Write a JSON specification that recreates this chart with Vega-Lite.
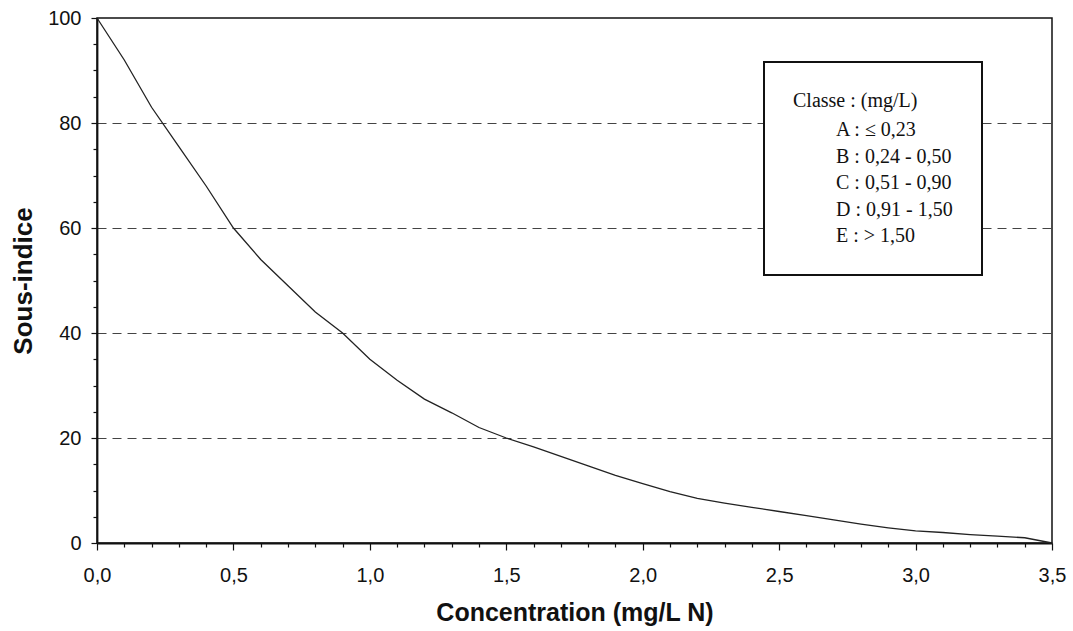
{
  "$schema": "https://vega.github.io/schema/vega-lite/v6.json",
  "autosize": {"type": "none"},
  "padding": {"left": 97, "top": 18, "right": 21, "bottom": 88},
  "width": 955,
  "height": 525,
  "background": "white",
  "config": {
    "view": {"stroke": "#111111", "strokeWidth": 1.5},
    "font": "Liberation Sans",
    "legend": {"strokeWidth": 2}
  },
  "datasets": {
    "curve": [
      {"c": 0.0, "s": 100}, {"c": 0.1, "s": 92}, {"c": 0.2, "s": 83}, {"c": 0.3, "s": 75.5},
      {"c": 0.4, "s": 68}, {"c": 0.5, "s": 60}, {"c": 0.6, "s": 54}, {"c": 0.7, "s": 49},
      {"c": 0.8, "s": 44}, {"c": 0.9, "s": 40}, {"c": 1.0, "s": 35}, {"c": 1.1, "s": 31},
      {"c": 1.2, "s": 27.4}, {"c": 1.3, "s": 24.8}, {"c": 1.4, "s": 22}, {"c": 1.5, "s": 20},
      {"c": 1.6, "s": 18.3}, {"c": 1.7, "s": 16.5}, {"c": 1.8, "s": 14.7}, {"c": 1.9, "s": 12.9},
      {"c": 2.0, "s": 11.3}, {"c": 2.1, "s": 9.8}, {"c": 2.2, "s": 8.5}, {"c": 2.3, "s": 7.6},
      {"c": 2.4, "s": 6.8}, {"c": 2.5, "s": 6.0}, {"c": 2.6, "s": 5.2}, {"c": 2.7, "s": 4.4},
      {"c": 2.8, "s": 3.6}, {"c": 2.9, "s": 2.9}, {"c": 3.0, "s": 2.3}, {"c": 3.1, "s": 2.0},
      {"c": 3.2, "s": 1.6}, {"c": 3.3, "s": 1.3}, {"c": 3.4, "s": 1.0}, {"c": 3.5, "s": 0}
    ],
    "classes": [
      {"classe": "A : ≤ 0,23"},
      {"classe": "B : 0,24 - 0,50"},
      {"classe": "C : 0,51 - 0,90"},
      {"classe": "D : 0,91 - 1,50"},
      {"classe": "E : > 1,50"}
    ]
  },
  "layer": [
    {
      "data": {"name": "curve"},
      "mark": {"type": "line", "color": "#222222", "strokeWidth": 1.3},
      "encoding": {
        "x": {
          "field": "c", "type": "quantitative",
          "title": "Concentration (mg/L N)",
          "scale": {"domain": [0, 3.5], "nice": false, "zero": false},
          "axis": {
            "values": [0,0.1,0.2,0.3,0.4,0.5,0.6,0.7,0.8,0.9,1,1.1,1.2,1.3,1.4,1.5,1.6,1.7,1.8,1.9,2,2.1,2.2,2.3,2.4,2.5,2.6,2.7,2.8,2.9,3,3.1,3.2,3.3,3.4,3.5],
            "labelExpr": "abs(datum.value*2 - round(datum.value*2)) < 0.001 ? replace(format(datum.value, '.1f'), '.', ',') : ''",
            "labelOverlap": false,
            "labelFont": "Liberation Sans",
            "labelFontSize": 20,
            "labelColor": "#111111",
            "labelPadding": 15,
            "labelFlush": false,
            "tickSize": {"condition": {"test": "abs(datum.value*2 - round(datum.value*2)) < 0.001", "value": 7}, "value": 4},
            "tickColor": "#111111",
            "tickWidth": 1.2,
            "domainColor": "#111111",
            "domainWidth": 1.8,
            "grid": false,
            "titleFont": "Liberation Sans",
            "titleFontSize": 25,
            "titleFontWeight": "bold",
            "titleColor": "#111111",
            "titlePadding": 15
          }
        },
        "y": {
          "field": "s", "type": "quantitative",
          "title": "Sous-indice",
          "scale": {"domain": [0, 100], "nice": false},
          "axis": {
            "values": [0,5,10,15,20,25,30,35,40,45,50,55,60,65,70,75,80,85,90,95,100],
            "labelExpr": "datum.value % 20 == 0 ? datum.value : ''",
            "labelOverlap": false,
            "labelFont": "Liberation Sans",
            "labelFontSize": 20,
            "labelColor": "#111111",
            "labelPadding": 10,
            "tickSize": {"condition": {"test": "datum.value % 20 == 0", "value": 6}, "value": 4},
            "tickColor": "#111111",
            "tickWidth": 1.2,
            "domainColor": "#111111",
            "domainWidth": 1.8,
            "grid": true,
            "gridColor": "#444444",
            "gridWidth": 1,
            "gridDash": [9, 6],
            "gridOpacity": {"condition": {"test": "datum.value % 20 == 0 && datum.value > 0 && datum.value < 100", "value": 1}, "value": 0},
            "titleFont": "Liberation Sans",
            "titleFontSize": 26,
            "titleFontWeight": "bold",
            "titleColor": "#111111",
            "titlePadding": 11
          }
        }
      }
    },
    {
      "data": {"name": "classes"},
      "mark": {"type": "point", "opacity": 0},
      "encoding": {
        "color": {
          "field": "classe", "type": "nominal",
          "scale": {"range": ["#000000"]},
          "legend": {
            "orient": "none",
            "legendX": 667,
            "legendY": 44,
            "title": "Classe : (mg/L)",
            "titleFont": "Liberation Serif",
            "titleFontSize": 20,
            "titleFontWeight": "normal",
            "titleColor": "#111111",
            "titlePadding": 9,
            "labelFont": "Liberation Serif",
            "labelFontSize": 20,
            "labelColor": "#111111",
            "labelLimit": 400,
            "labelOffset": 23,
            "symbolSize": 1,
            "symbolOpacity": 0,
            "symbolStrokeWidth": 0,
            "rowPadding": 6.5,
            "padding": 29,
            "strokeColor": "#111111",
            "fillColor": "white"
          }
        }
      }
    }
  ]
}
